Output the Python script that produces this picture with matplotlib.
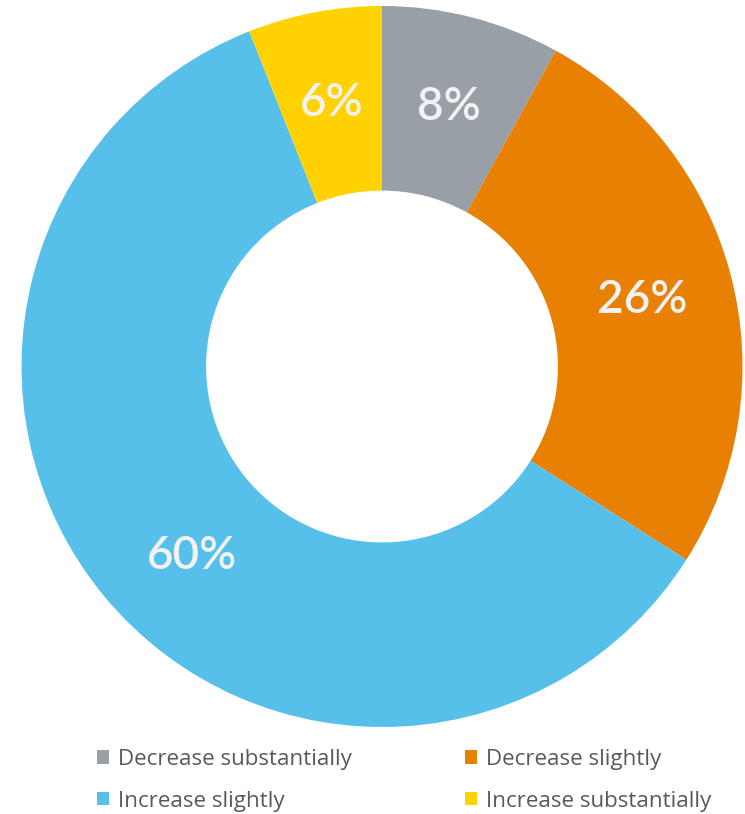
import numpy as np
import matplotlib.pyplot as plt

# share of responses, clockwise from top
labels = ["Decrease substantially", "Decrease slightly", "Increase slightly", "Increase substantially"]
values = [8, 26, 60, 6]
colors = ["#989fa6", "#e88003", "#56c0ea", "#ffd200"]

fig = plt.figure(figsize=(7.45, 8.14), dpi=100)
ax = fig.add_axes([21/745, 87/814, 722/745, 721/814])

wedges, texts, autotexts = ax.pie(
    values, colors=colors, startangle=90, counterclock=False,
    radius=1, wedgeprops=dict(width=0.512, linewidth=0),
    autopct="%d%%", pctdistance=0.744,
    textprops=dict(color="#f2f2f2", fontsize=33, family="Lato", fontweight="semibold"))
ax.set_xlim(-1, 1)
ax.set_ylim(-1, 1)
ax.set_aspect("equal")

# the big blue label sits a bit further round than the middle of its slice
a = np.deg2rad(-135)
autotexts[2].set_position((0.744 * np.cos(a), 0.744 * np.sin(a)))

# legend rows go left to right, so reorder for column fill
order = [0, 2, 1, 3]
leg = fig.legend([wedges[i] for i in order], [labels[i] for i in order],
                 ncol=2, loc="upper left", bbox_to_anchor=(97/745, 1 - 749/814),
                 frameon=False, handlelength=0.55, handleheight=0.55,
                 handletextpad=0.4, columnspacing=5.05, labelspacing=0.92,
                 borderpad=0, borderaxespad=0,
                 prop=dict(family="Open Sans", size=16.1))
for t in leg.get_texts():
    t.set_color("#595959")

fig.savefig("out.png", dpi=100)
